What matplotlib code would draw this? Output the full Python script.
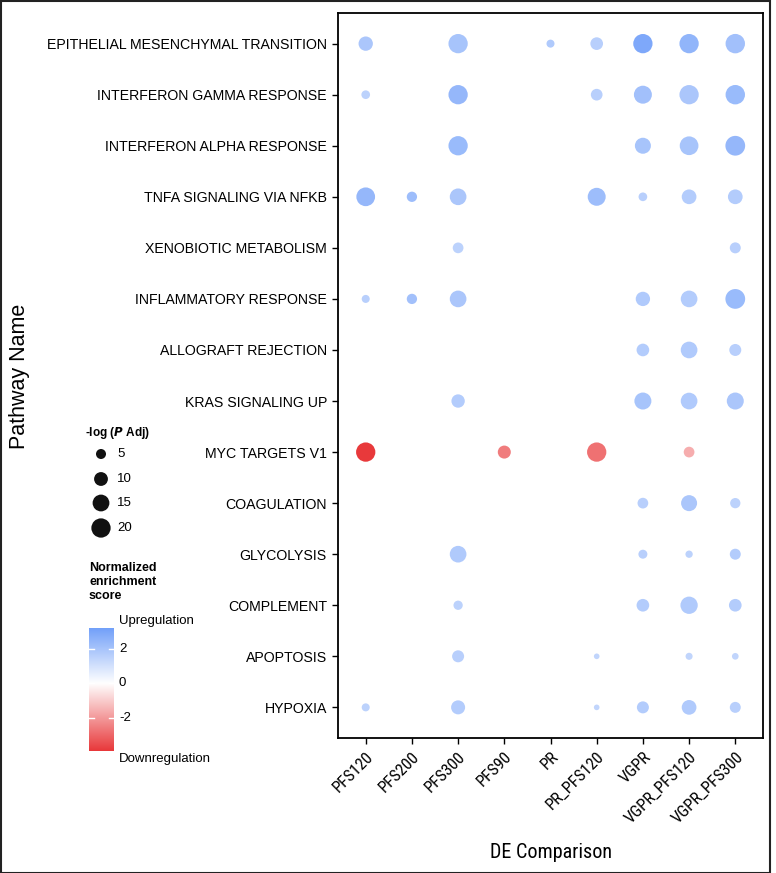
import numpy as np
import matplotlib
matplotlib.use('Agg')
import matplotlib.pyplot as plt
from matplotlib.colors import LinearSegmentedColormap, Normalize
from matplotlib.patches import Rectangle
from matplotlib import font_manager

nan = np.nan

pathways = ["EPITHELIAL MESENCHYMAL TRANSITION", "INTERFERON GAMMA RESPONSE",
            "INTERFERON ALPHA RESPONSE", "TNFA SIGNALING VIA NFKB",
            "XENOBIOTIC METABOLISM", "INFLAMMATORY RESPONSE", "ALLOGRAFT REJECTION",
            "KRAS SIGNALING UP", "MYC TARGETS V1", "COAGULATION", "GLYCOLYSIS",
            "COMPLEMENT", "APOPTOSIS", "HYPOXIA"]
comparisons = ["PFS120", "PFS200", "PFS300", "PFS90", "PR", "PR_PFS120",
               "VGPR", "VGPR_PFS120", "VGPR_PFS300"]

# -log(P adj), rows = pathways, cols = comparisons
neg_log_p = [
    [10.8, nan, 20.0, nan, 3.0, 8.3, 20.0, 20.0, 20.3],
    [3.6, nan, 20.0, nan, nan, 7.0, 17.3, 20.0, 20.3],
    [nan, nan, 20.0, nan, nan, nan, 13.6, 18.8, 21.0],
    [18.8, 5.3, 14.8, nan, nan, 17.3, 3.6, 11.4, 11.4],
    [nan, nan, 5.8, nan, nan, nan, nan, nan, 6.1],
    [3.0, 5.3, 14.8, nan, nan, nan, 10.8, 14.8, 21.0],
    [nan, nan, nan, nan, nan, nan, 8.3, 14.8, 7.4],
    [nan, nan, 9.3, nan, nan, nan, 15.4, 14.8, 15.4],
    [20.0, nan, nan, 8.8, nan, 20.0, nan, 5.8, nan],
    [nan, nan, nan, nan, nan, nan, 5.8, 13.6, 5.3],
    [nan, nan, 14.8, nan, nan, nan, 3.9, 2.4, 6.1],
    [nan, nan, 4.2, nan, nan, nan, 8.3, 16.0, 8.3],
    [nan, nan, 7.4, nan, nan, 1.2, nan, 2.2, 1.9],
    [3.0, nan, 10.3, nan, nan, 1.2, 7.4, 11.4, 6.1],
]

# normalized enrichment score
nes = [
    [1.9, nan, 2.0, nan, 1.8, 1.6, 2.9, 2.5, 2.1],
    [1.5, nan, 2.4, nan, nan, 1.6, 2.1, 1.9, 2.3],
    [nan, nan, 2.3, nan, nan, nan, 2.0, 2.0, 2.4],
    [2.4, 2.2, 1.9, nan, nan, 2.2, 1.6, 1.7, 1.7],
    [nan, nan, 1.5, nan, nan, nan, nan, nan, 1.6],
    [1.6, 2.1, 1.9, nan, nan, nan, 1.8, 1.7, 2.3],
    [nan, nan, nan, nan, nan, nan, 1.7, 1.8, 1.6],
    [nan, nan, 1.7, nan, nan, nan, 2.0, 1.8, 1.9],
    [-3.9, nan, nan, -2.6, nan, -2.8, nan, -1.6, nan],
    [nan, nan, nan, nan, nan, nan, 1.6, 1.9, 1.5],
    [nan, nan, 1.8, nan, nan, nan, 1.6, 1.5, 1.7],
    [nan, nan, 1.5, nan, nan, nan, 1.7, 1.8, 1.7],
    [nan, nan, 1.6, nan, nan, 1.4, nan, 1.4, 1.4],
    [1.5, nan, 1.7, nan, nan, 1.4, 1.7, 1.8, 1.6],
]

size_breaks = [5, 10, 15, 20]
nes_ticks = [2, 0, -2]

# fonts
entries = font_manager.fontManager.ttflist
names = set(f.name for f in entries)
base_font = 'Liberation Sans' if 'Liberation Sans' in names else 'DejaVu Sans'
narrow_font, narrow_stretch = base_font, 'normal'
for cand in ['Liberation Sans Narrow', 'Roboto Condensed', 'Open Sans Condensed']:
    if cand in names:
        narrow_font, narrow_stretch = cand, 'condensed'
        break
else:
    for f in entries:
        if f.name == 'DejaVu Sans' and 'condensed' in str(f.stretch):
            narrow_font, narrow_stretch = 'DejaVu Sans', 'condensed'
            break
narrow_is_real = narrow_font != base_font
plt.rcParams['font.family'] = [base_font, 'DejaVu Sans']

def bubble_size(v):
    # area grows linearly with -log p (diameter in px at dpi 100 -> pt^2)
    return 0.5184 * (10 + 18.1 * np.asarray(v, dtype=float))

vmin, vmax = -3.94, 3.2
mid = (0 - vmin) / (vmax - vmin)
cmap = LinearSegmentedColormap.from_list(
    'nes', [(0, '#E8383A'), (mid, '#FFFFFF'), (1, '#72A0F9')])
norm = Normalize(vmin, vmax)

lp = np.array(neg_log_p)
ns = np.array(nes)
ys, xs = np.where(~np.isnan(lp))

fig = plt.figure(figsize=(7.76, 8.73), dpi=100)
ax = fig.add_axes([338/776, 1 - 738/873, (763-338)/776, (738-13)/873])
ax.scatter(xs + 1, ys + 1, s=bubble_size(lp[ys, xs]), c=ns[ys, xs],
           cmap=cmap, norm=norm, linewidths=0, zorder=3)
ax.set_xlim(0.4, 9.6)
ax.set_ylim(14.6, 0.4)
ax.set_xticks(np.arange(1, len(comparisons) + 1))
ax.set_xticklabels(comparisons, rotation=45, ha='right', rotation_mode='anchor',
                   fontsize=12 if narrow_is_real else 10,
                   family=[narrow_font, 'DejaVu Sans'], fontstretch=narrow_stretch)
ax.set_yticks(np.arange(1, len(pathways) + 1))
ax.set_yticklabels(pathways, fontsize=10.2)
ax.tick_params(length=4, width=1, colors='black', pad=4)
for sp in ax.spines.values():
    sp.set_linewidth(1.3)
ax.set_xlabel("DE Comparison", fontsize=14.5 if narrow_is_real else 13.5,
              family=[narrow_font, 'DejaVu Sans'], fontstretch=narrow_stretch,
              labelpad=12)
fig.text(20/776, 1 - 376/873, "Pathway Name", rotation=90, fontsize=15.5,
         ha='center', va='center')

# size legend
lax = fig.add_axes([0, 0, 1, 1], facecolor='none')
lax.set_xlim(0, 776)
lax.set_ylim(873, 0)
lax.axis('off')
lax.text(85, 433, r"-log ($\bfit{P}$ Adj)", fontsize=8.5,
         fontweight='bold', ha='left', va='center')
leg_y = [454, 479, 503, 528]
lax.scatter([101] * len(size_breaks), leg_y, s=bubble_size(size_breaks),
            color='#111111', linewidths=0)
for v, y in zip(size_breaks, leg_y):
    lax.text(117, y, str(v), fontsize=9.5, va='center', ha='left')

# colour legend
lax.text(89, 582, "Normalized\nenrichment\nscore", fontsize=9, fontweight='bold',
         va='center', ha='left', linespacing=1.2)
lax.text(119, 621, "Upregulation", fontsize=9.5, va='center', ha='left')
lax.text(119, 759, "Downregulation", fontsize=9.5, va='center', ha='left')
cax = fig.add_axes([89/776, 1 - 751/873, 25/776, 123/873])
grad = np.linspace(vmin, vmax, 256).reshape(-1, 1)
cax.imshow(grad, aspect='auto', cmap=cmap, norm=norm, origin='lower',
           extent=[0, 1, vmin, vmax])
cax.set_xlim(0, 1)
cax.set_ylim(vmin, vmax)
for t in nes_ticks:
    cax.plot([0, 0.2], [t, t], color='white', lw=1)
    cax.plot([0.8, 1], [t, t], color='white', lw=1)
    cax.text(1.2, t, str(t), fontsize=9.5, va='center', ha='left',
             transform=cax.transData, clip_on=False)
cax.axis('off')

# outer frame
fig.patches.append(Rectangle((0.5/776, 0.5/873), 769/776, 871.5/873, fill=False,
                             edgecolor='#222222', linewidth=1.5,
                             transform=fig.transFigure))

fig.savefig('out.png', dpi=100)
